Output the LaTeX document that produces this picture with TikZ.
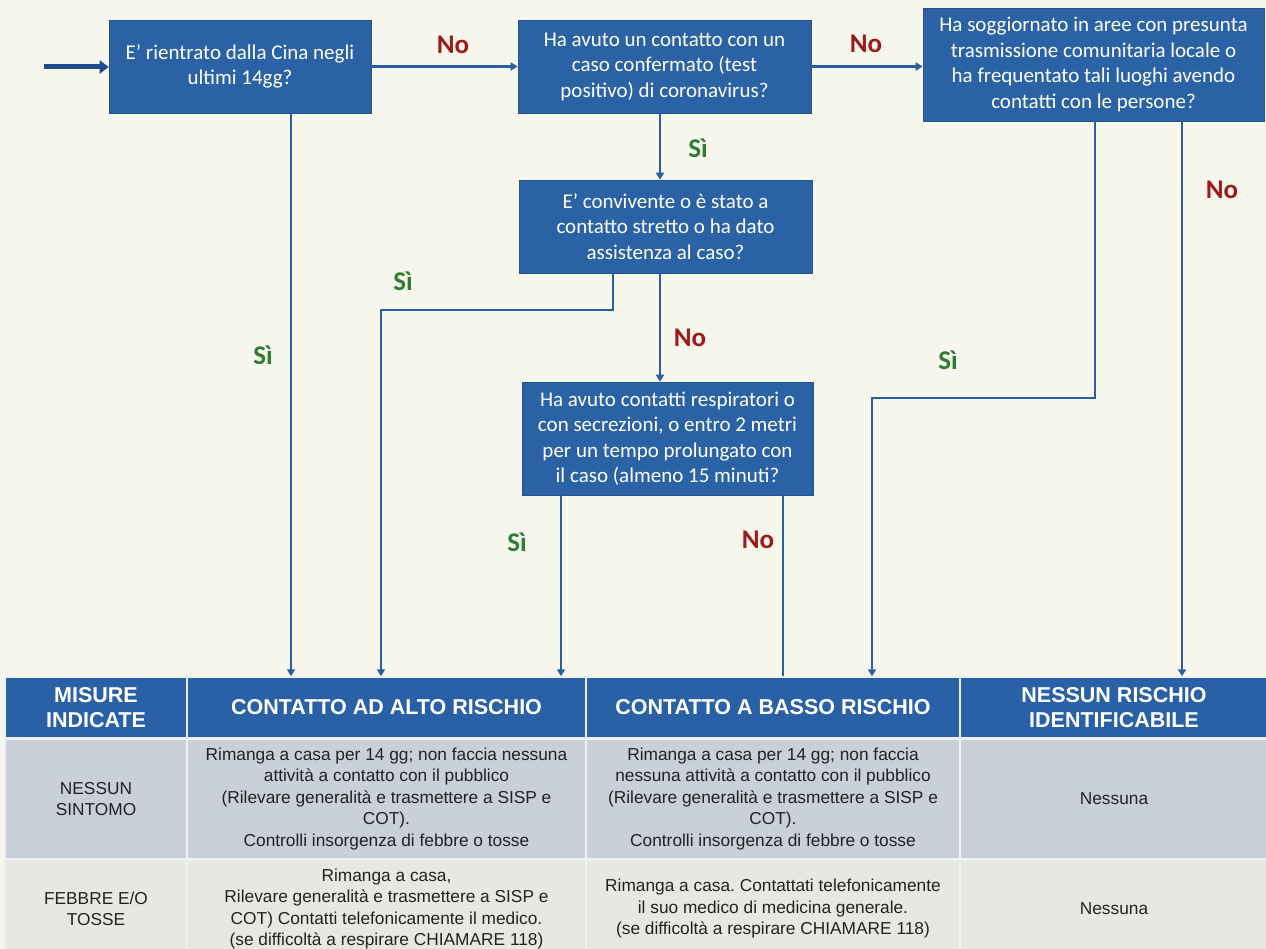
\documentclass[tikz,border=0pt]{standalone}
\usepackage{fontspec}
\setmainfont{Liberation Sans}
\newfontfamily\calfont{Carlito}
\usetikzlibrary{arrows.meta}
\frenchspacing
\definecolor{bg}{HTML}{F7F6EC}
\definecolor{boxblue}{HTML}{2B62A6}
\definecolor{lineblue}{HTML}{2A5EA3}
\definecolor{navy}{HTML}{1F4C8C}
\definecolor{nored}{HTML}{9B1B1B}
\definecolor{sigreen}{HTML}{2E7D32}
\definecolor{rowa}{HTML}{C9D0D9}
\definecolor{rowb}{HTML}{E8E8E3}
\definecolor{headblue}{HTML}{2A60A6}
\definecolor{txt}{HTML}{222222}
\definecolor{sep}{HTML}{EEF0F2}
\begin{document}
\begin{tikzpicture}[x=1pt,y=-1pt,
  qbox/.style={fill=boxblue, draw=boxblue!85!black, line width=0.6pt, text=white, align=center,
    font=\calfont\fontsize{21}{25.5}\selectfont, inner sep=0pt},
  arr/.style={draw=lineblue, line width=2.6pt, -{Triangle[length=7pt,width=8pt]}},
  ln/.style={draw=lineblue, line width=2.6pt},
  nolab/.style={text=nored, font=\calfont\bfseries\fontsize{27}{27}\selectfont},
  silab/.style={text=sigreen, font=\calfont\bfseries\fontsize{27}{27}\selectfont},
  hcell/.style={fill=headblue, draw=sep, line width=1.5pt, text=white,
    font=\bfseries\fontsize{21.5}{25}\selectfont, align=center, inner sep=0pt},
  cella/.style={fill=rowa, draw=sep, line width=1.5pt, text=txt,
    font=\fontsize{17.3}{21.5}\selectfont, align=center, inner sep=0pt},
  cellb/.style={fill=rowb, draw=sep, line width=1.5pt, text=txt,
    font=\fontsize{17.3}{21.5}\selectfont, align=center, inner sep=0pt}
]
\useasboundingbox (0,0) rectangle (1266,949);
\fill[bg] (0,0) rectangle (1266,949);

% question boxes
\node[qbox, minimum width=262pt, minimum height=93pt] (b1) at (240,66.5)
  {E’ rientrato dalla Cina negli\\ultimi 14gg?};
\node[qbox, minimum width=293pt, minimum height=93pt] (b2) at (664.5,66.5)
  {Ha avuto un contatto con un\\caso confermato (test\\positivo) di coronavirus?};
\node[qbox, minimum width=341pt, minimum height=113pt] (b3) at (1093.5,64.5)
  {Ha soggiornato in aree con presunta\\trasmissione comunitaria locale o\\ha frequentato tali luoghi avendo\\contatti con le persone?};
\node[qbox, minimum width=293pt, minimum height=93pt] (b4) at (665.5,226.5)
  {E’ convivente o è stato a\\contatto stretto o ha dato\\assistenza al caso?};
\node[qbox, minimum width=291pt, minimum height=113pt] (b5) at (667.5,438.5)
  {Ha avuto contatti respiratori o\\con secrezioni, o entro 2 metri\\per un tempo prolungato con\\il caso (almeno 15 minuti?};

% table header
\node[hcell, minimum width=182pt, minimum height=61pt] (h1) at (96,707.5) {MISURE\\INDICATE};
\node[hcell, minimum width=399pt, minimum height=61pt] (h2) at (386.5,707.5) {CONTATTO AD ALTO RISCHIO};
\node[hcell, minimum width=374pt, minimum height=61pt] (h3) at (773,707.5) {CONTATTO A BASSO RISCHIO};
\node[hcell, minimum width=308pt, minimum height=61pt] (h4) at (1114,707.5) {NESSUN RISCHIO\\IDENTIFICABILE};
% row 1
\node[cella, minimum width=182pt, minimum height=120pt] (r11) at (96,799) {NESSUN\\SINTOMO};
\node[cella, minimum width=399pt, minimum height=120pt] (r12) at (386.5,799)
  {Rimanga a casa per 14 gg; non faccia nessuna\\attività a contatto con il pubblico\\(Rilevare generalità e trasmettere a SISP e\\COT).\\Controlli insorgenza di febbre o tosse};
\node[cella, minimum width=374pt, minimum height=120pt] (r13) at (773,799)
  {Rimanga a casa per 14 gg; non faccia\\nessuna attività a contatto con il pubblico\\(Rilevare generalità e trasmettere a SISP e\\COT).\\Controlli insorgenza di febbre o tosse};
\node[cella, minimum width=308pt, minimum height=120pt] (r14) at (1114,799) {Nessuna};
% row 2
\node[cellb, minimum width=182pt, minimum height=98pt] (r21) at (96,909) {FEBBRE E/O\\TOSSE};
\node[cellb, minimum width=399pt, minimum height=98pt] (r22) at (386.5,909)
  {Rimanga a casa,\\Rilevare generalità e trasmettere a SISP e\\COT) Contatti telefonicamente il medico.\\(se difficoltà a respirare CHIAMARE 118)};
\node[cellb, minimum width=374pt, minimum height=98pt] (r23) at (773,909)
  {Rimanga a casa. Contattati telefonicamente\\il suo medico di medicina generale.\\(se difficoltà a respirare CHIAMARE 118)};
\node[cellb, minimum width=308pt, minimum height=98pt] (r24) at (1114,909) {Nessuna};

% helper coordinates
\coordinate (start) at (44,67);
\coordinate (x1) at (291,0);
\coordinate (k1) at (613,310);
\coordinate (k2) at (381,310);
\coordinate (x5a) at (561,0);
\coordinate (x5b) at (783,0);
\coordinate (k3) at (1095,398);
\coordinate (k4) at (872,398);
\coordinate (x3b) at (1182,0);
\coordinate (xc) at (660,0);

% connectors
\draw[arr, draw=navy, line width=5pt, -{Triangle[length=9pt,width=13pt]}] (start) -- (b1.west |- start);
\draw[arr] (b1.east) -- (b2.west);
\draw[arr] (b2.east) -- (b3.west |- b2.east);
\draw[arr] (b2.south -| xc) -- (b4.north -| xc);
\draw[arr] (b4.south -| xc) -- (b5.north -| xc);
\draw[arr] (b1.south -| x1) -- (h2.north -| x1);
\draw[arr] (b4.south -| k1) -- (k1) -- (k2) -- (h2.north -| k2);
\draw[arr] (b5.south -| x5a) -- (h2.north -| x5a);
\draw[ln] (b5.south -| x5b) -- (h3.north -| x5b);
\draw[arr] (b3.south -| k3) -- (k3) -- (k4) -- (h3.north -| k4);
\draw[arr] (b3.south -| x3b) -- (h4.north -| x3b);

% labels
\node[nolab] (l1) at (453,45) {No};
\node[nolab] (l2) at (866,44) {No};
\node[silab] (l3) at (698,148) {Sì};
\node[silab] (l4) at (403,281) {Sì};
\node[silab] (l5) at (263,355) {Sì};
\node[nolab] (l6) at (690,338) {No};
\node[silab] (l7) at (517,542) {Sì};
\node[nolab] (l8) at (758,540) {No};
\node[silab] (l9) at (948,360) {Sì};
\node[nolab] (l10) at (1222,190) {No};
\end{tikzpicture}
\end{document}
